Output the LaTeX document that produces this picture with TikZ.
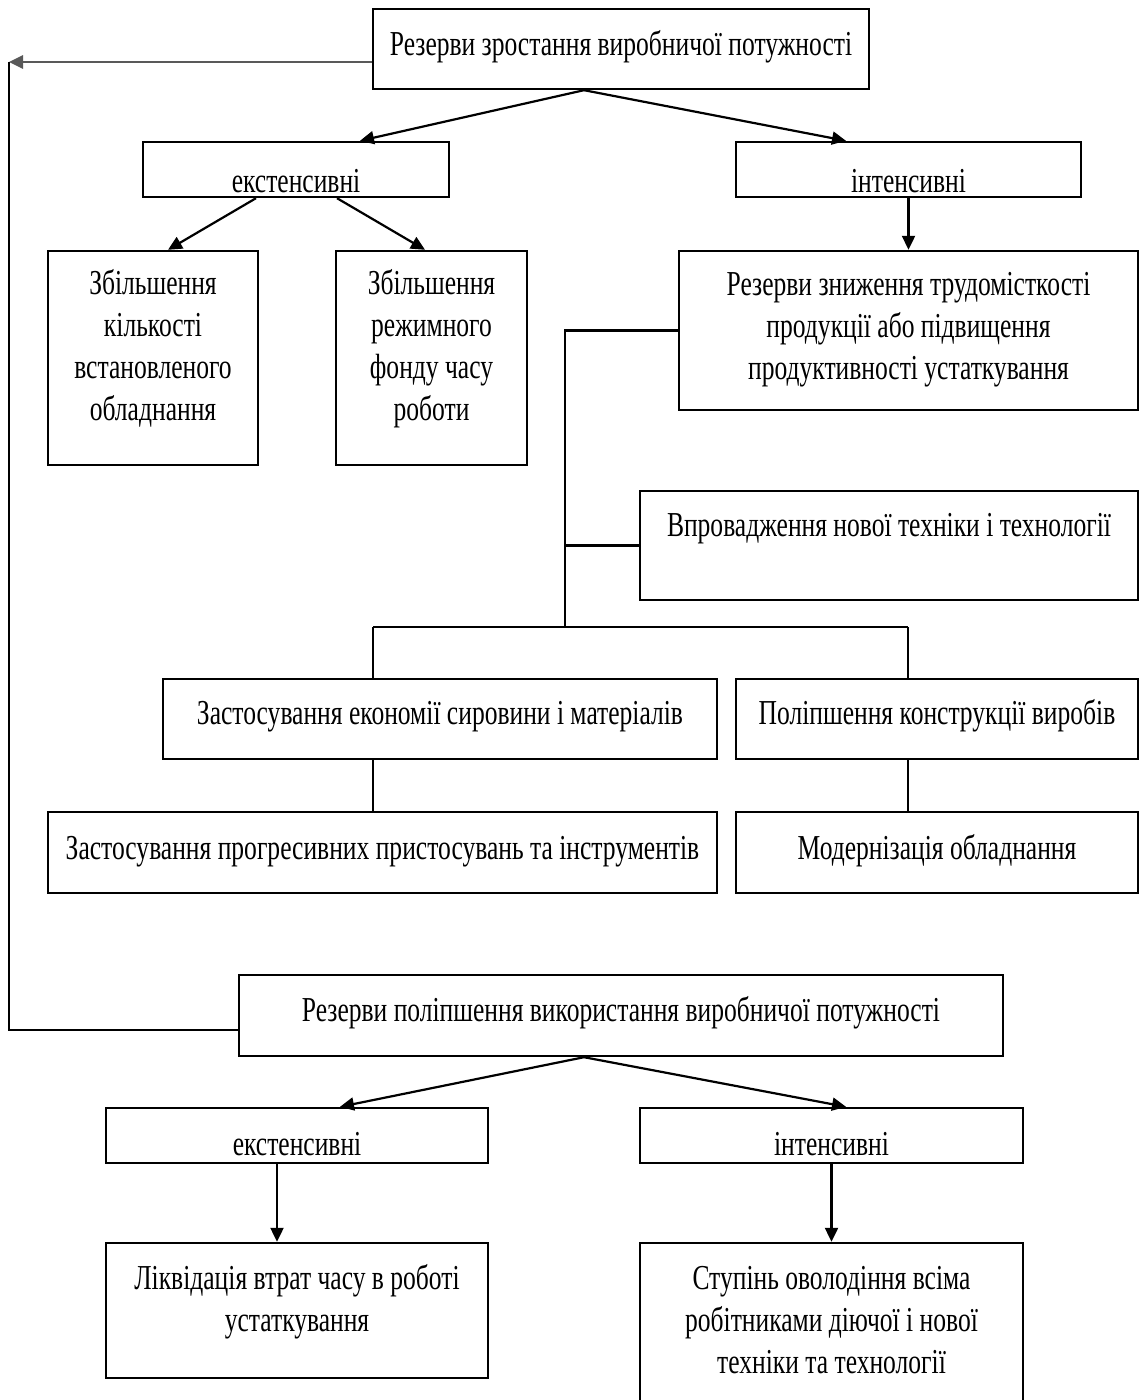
\documentclass[tikz,border=0pt]{standalone}
\usepackage{fontspec}
\setmainfont{Liberation Serif}[FakeStretch=0.73]
\usetikzlibrary{arrows.meta}
\newcommand{\rup}[1]{\rule{0pt}{#1}}
\newcommand{\rdn}[1]{\rule[-#1]{0pt}{#1}}
\tikzset{
  box/.style={draw, line width=1.2pt, rectangle, inner sep=0pt, align=center,
    font={\fontsize{17.5pt}{21pt}\selectfont}},
  lnk/.style={line width=1.1pt},
  arr/.style={lnk, -{Triangle[length=7pt,width=6.5pt]}}
}
\begin{document}
\begin{tikzpicture}[x=0.5pt,y=-0.5pt] %%%%% 1px = 0.5pt

\useasboundingbox (0,0) rectangle (1141,1400);

	\node [box, minimum width=248pt, minimum height=40pt] (top) at (621,49) {\rup{19pt}\rdn{12pt}Резерви зростання виробничої потужності};%верх
	\node [box, minimum width=153pt, minimum height=27.5pt] (ext1) at (296,169.5) {\rup{23pt}екстенсивні};
	\node [box, minimum width=172.5pt, minimum height=27.5pt] (int1) at (908.5,169.5) {\rup{23pt}інтенсивні};
	\node [box, minimum width=105pt, minimum height=107pt] (zb1) at (153,358) {\rup{19pt}Збільшення\\кількості\\встановленого\\обладнання\rdn{19pt}};
	\node [box, minimum width=95.5pt, minimum height=107pt] (zb2) at (431.5,358) {\rup{19pt}Збільшення\\режимного\\фонду часу\\роботи\rdn{19pt}};
	\node [box, minimum width=229.5pt, minimum height=79.5pt] (rz) at (908.5,330.5) {\rup{19pt}Резерви зниження трудомісткості\\продукції або підвищення\\продуктивності устаткування\rdn{11.5pt}};
	\node [box, minimum width=249pt, minimum height=54.5pt] (vp) at (889,545.5) {\rup{19pt}\rdn{28.5pt}Впровадження нової техніки і технології};
	\node [box, minimum width=277pt, minimum height=40pt] (ze) at (440,719) {\rup{19pt}\rdn{14pt}Застосування економії сировини і матеріалів};
	\node [box, minimum width=201pt, minimum height=40pt] (pk) at (937,719) {\rup{19pt}\rdn{14pt}Поліпшення конструкції виробів};
	\node [box, minimum width=334.5pt, minimum height=40.5pt] (pp) at (382.5,852.5) {\rup{19pt}\rdn{12.5pt}Застосування прогресивних пристосувань та інструментів};
	\node [box, minimum width=201pt, minimum height=40.5pt] (mo) at (937,852.5) {\rup{19pt}\rdn{12.5pt}Модернізація обладнання};
	\node [box, minimum width=382pt, minimum height=40.5pt] (bot) at (621,1015.5) {\rup{19pt}\rdn{13.5pt}Резерви поліпшення використання виробничої потужності};%низ
	\node [box, minimum width=191pt, minimum height=27.5pt] (ext2) at (297,1135.5) {\rup{20.5pt}екстенсивні};
	\node [box, minimum width=191.5pt, minimum height=27.5pt] (int2) at (831.5,1135.5) {\rup{20.5pt}інтенсивні};
	\node [box, minimum width=191pt, minimum height=67.5pt] (lk) at (297,1310.5) {\rup{19pt}Ліквідація втрат часу в роботі\\устаткування\rdn{19.5pt}};
	\node [box, minimum width=191.5pt, minimum height=88.5pt] (st) at (831.5,1331.5) {\rup{19pt}Ступінь оволодіння всіма\\робітниками діючої і нової\\техніки та технології\rdn{19.5pt}};

	\coordinate (lc) at (9,62);%лівий кут
	\coordinate (tr) at (565,627);%стовбур
	\coordinate (hl) at (373,627);
	\coordinate (hr) at (908,627);

	\draw [arr, draw=black!65, line width=1.4pt] ([yshift=-6.5pt]top.west) -- (lc);
	\draw [lnk] (lc) |- ([yshift=-7.25pt]bot.west);%зворотна лінія
	\draw [arr] ([xshift=-18.5pt]top.south) -- ([xshift=32pt]ext1.north);
	\draw [arr] ([xshift=-18.5pt]top.south) -- ([xshift=-31.25pt]int1.north);
	\draw [arr] ([xshift=-20pt]ext1.south) -- ([xshift=7.5pt]zb1.north);
	\draw [arr] ([xshift=20.5pt]ext1.south) -- ([xshift=-3.25pt]zb2.north);
	\draw [arr] (int1.south) -- (rz.north);
	\draw [lnk] (rz.west) -| (tr);
	\draw [lnk] (vp.west) -- (vp.west -| tr);
	\draw [lnk] (hl) -- (hr);
	\draw [lnk] (hl) -- (hl |- ze.north);
	\draw [lnk] (hr) -- (hr |- pk.north);
	\draw [lnk] (hl |- ze.south) -- (hl |- pp.north);
	\draw [lnk] (hr |- pk.south) -- (hr |- mo.north);
	\draw [arr] ([xshift=-18.5pt]bot.south) -- ([xshift=21.5pt]ext2.north);
	\draw [arr] ([xshift=-18.5pt]bot.south) -- ([xshift=7.25pt]int2.north);
	\draw [arr] ([xshift=-10pt]ext2.south) -- ([xshift=-10pt]lk.north);
	\draw [arr] (int2.south) -- (st.north);

\end{tikzpicture}
\end{document}
